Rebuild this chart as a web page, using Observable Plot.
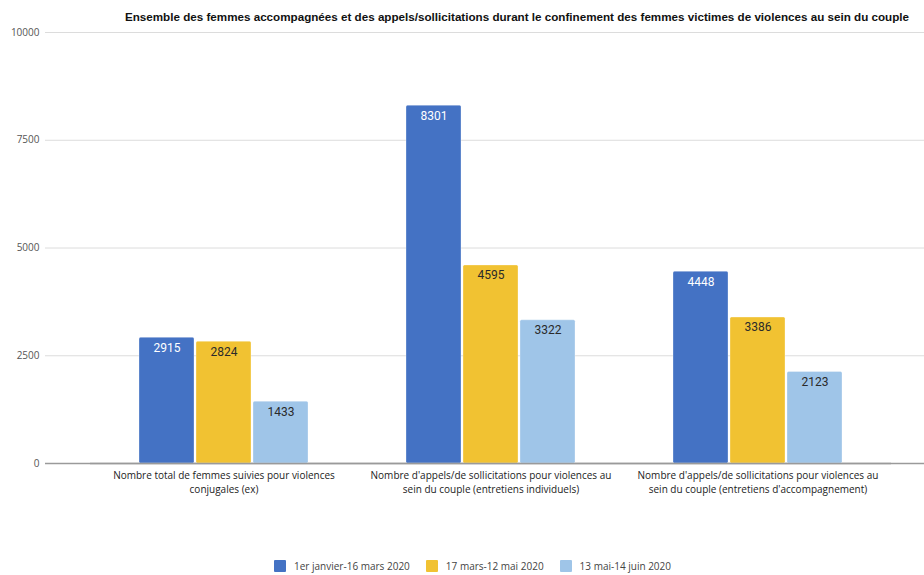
<!DOCTYPE html>
<html>
<head>
<meta charset="utf-8">
<script src="https://cdn.jsdelivr.net/npm/d3@7"></script>
<script src="https://cdn.jsdelivr.net/npm/@observablehq/plot@0.6"></script>
<style>
  html, body { margin: 0; padding: 0; background: #fff; }
  #wrap { width: 924px; height: 575px; position: relative; overflow: hidden; }
  #title { height: 26px; box-sizing: border-box; padding-top: 10px; line-height: 14px;
    font: bold 11.65px "Liberation Sans", Arial, sans-serif; color: #111; text-align: right; padding-right: 15px; white-space: nowrap; }
  #chart { position: relative; width: 924px; height: 505px; }
  #chart svg { position: absolute; left: 0; top: 0; }
  #legend { display: flex; align-items: center; padding-left: 274px; padding-top: 28px;
    font: 10px "Open Sans", sans-serif; color: #444; line-height: 14px; }
  .item { display: flex; align-items: center; margin-right: 16px; }
  .sw { width: 12px; height: 12px; margin-right: 8px; border-radius: 1px; }
</style>
</head>
<body>
<div id="wrap">
  <div id="title"></div>
  <div id="chart"></div>
  <div id="legend"></div>
</div>
<script>
const title = "Ensemble des femmes accompagnées et des appels/sollicitations durant le confinement des femmes victimes de violences au sein du couple";
const categories = [
  "Nombre total de femmes suivies pour violences conjugales (ex)",
  "Nombre d'appels/de sollicitations pour violences au sein du couple (entretiens individuels)",
  "Nombre d'appels/de sollicitations pour violences au sein du couple (entretiens d'accompagnement)"
];
const categoryLabels = [
  "Nombre total de femmes suivies pour violences\nconjugales (ex)",
  "Nombre d'appels/de sollicitations pour violences au\nsein du couple (entretiens individuels)",
  "Nombre d'appels/de sollicitations pour violences au\nsein du couple (entretiens d'accompagnement)"
];
const seriesNames = ["1er janvier-16 mars 2020", "17 mars-12 mai 2020", "13 mai-14 juin 2020"];
const series1 = [2915, 8301, 4448];
const series2 = [2824, 4595, 3386];
const series3 = [1433, 3322, 2123];
const colors = ["#4472c4", "#f1c232", "#9fc5e8"];
const yTicks = [0, 2500, 5000, 7500, 10000];

const allSeries = [series1, series2, series3];
const data = [];
categories.forEach((c, i) => {
  seriesNames.forEach((s, j) => data.push({category: c, series: s, value: allSeries[j][i]}));
});

document.getElementById("title").textContent = title;

const common = {
  width: 924,
  height: 505,
  marginTop: 6,
  marginBottom: 68,
  marginLeft: 45,
  marginRight: 0,
  y: {domain: [0, 10000], axis: null}
};

// Background layer: grid, y tick labels, baseline across the full frame
const base = Plot.plot({
  ...common,
  style: {fontFamily: "'Open Sans', sans-serif", fontSize: "10px", background: "white", color: "#555"},
  marks: [
    Plot.ruleY(yTicks.filter(d => d > 0), {stroke: "#dcdcdc", strokeWidth: 1}),
    Plot.axisY({ticks: yTicks, tickSize: 0, tickPadding: 6, tickFormat: d => String(d), label: null, fill: "#555", fontSize: 10}),
    Plot.ruleY([0], {stroke: "#9a9a9a", strokeWidth: 1.5})
  ]
});

// Foreground layer: grouped bars via facets
const bars = Plot.plot({
  ...common,
  style: {fontFamily: "'Open Sans', sans-serif", fontSize: "10px", background: "transparent", color: "#222"},
  fx: {domain: categories, paddingInner: 0, paddingOuter: 0.146, align: 0.583, label: null},
  x: {domain: seriesNames, paddingInner: 0.0345, paddingOuter: 0.819, axis: null},
  color: {domain: seriesNames, range: colors},
  marks: [
    Plot.barY(data, {fx: "category", x: "series", y: "value", fill: "series", rx: 1.5, stroke: "white", strokeOpacity: 0.3, strokeWidth: 1}),
    Plot.ruleY([0], {stroke: "#9a9a9a", strokeWidth: 1.5}),
    Plot.text(data, {filter: d => d.series === seriesNames[0], fx: "category", x: "series", y: "value", text: d => String(d.value), dy: 10, fill: "white", fontSize: 12, fontFamily: "Roboto, sans-serif"}),
    Plot.text(data, {filter: d => d.series !== seriesNames[0], fx: "category", x: "series", y: "value", text: d => String(d.value), dy: 10, fill: "#2a2a2a", fontSize: 12, fontFamily: "Roboto, sans-serif"}),
    Plot.axisFx({anchor: "bottom", tickSize: 0, tickPadding: 6, label: null, lineHeight: 1.4, fontSize: 10, fill: "#222",
      tickFormat: d => categoryLabels[categories.indexOf(d)]})
  ]
});

const holder = document.getElementById("chart");
holder.appendChild(base);
holder.appendChild(bars);

const legend = document.getElementById("legend");
seriesNames.forEach((s, i) => {
  const item = document.createElement("div");
  item.className = "item";
  const sw = document.createElement("div");
  sw.className = "sw";
  sw.style.background = colors[i];
  const t = document.createElement("span");
  t.textContent = s;
  item.appendChild(sw);
  item.appendChild(t);
  legend.appendChild(item);
});
</script>
</body>
</html>
